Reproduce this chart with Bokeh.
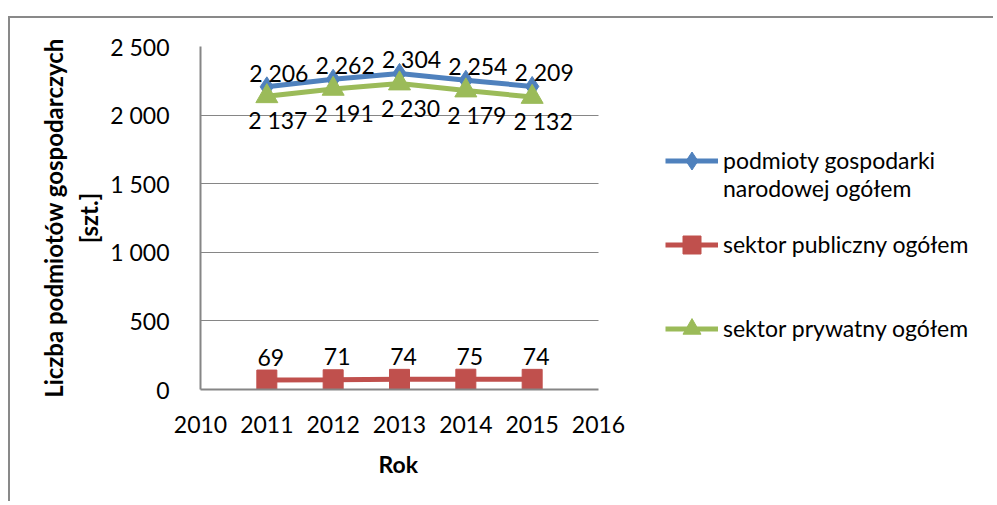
from bokeh.plotting import figure
from bokeh.models import Range1d, FixedTicker, Legend, LegendItem, ColumnDataSource, Title
from bokeh.core.properties import value
from bokeh.embed import file_html
from bokeh.resources import INLINE

years = [2011, 2012, 2013, 2014, 2015]
ogolem = [2206, 2262, 2304, 2254, 2209]
publiczny = [69, 71, 74, 75, 74]
prywatny = [2137, 2191, 2230, 2179, 2132]
y_ticks = [0, 500, 1000, 1500, 2000, 2500]
x_ticks = [2010, 2011, 2012, 2013, 2014, 2015, 2016]
series_names = ["\npodmioty gospodarki\nnarodowej ogółem", "sektor publiczny ogółem", "sektor prywatny ogółem"]
y_title = "Liczba podmiotów gospodarczych\n[szt.]"
x_title = "Rok"

FONT = "Lato"
BLUE, RED, GREEN = "#4F81BD", "#C0504D", "#9BBB59"
GRID = "#868686"

W, H = 985, 485
BL, BT, BB = 190, 28, 114
PLOT_W = 398                       # width of the plotting area (2010..2016)
FRAME_W = W - BL
x_end = x_ticks[0] + (x_ticks[-1] - x_ticks[0]) * FRAME_W / PLOT_W


def fmt(v):
    return f"{v:,}".replace(",", " ")


p = figure(width=W, height=H, output_backend="svg", toolbar_location=None,
           x_range=Range1d(x_ticks[0], x_end), y_range=Range1d(0, 2500),
           min_border_left=BL, min_border_right=0, min_border_top=BT, min_border_bottom=BB,
           styles={"border-top": "2px solid #898989", "border-left": "2px solid #898989",
                   "margin-top": "16px", "margin-left": "8px"})
p.outline_line_color = None
p.background_fill_color = "white"

# axes
p.xaxis.ticker = FixedTicker(ticks=x_ticks)
p.xaxis.bounds = (x_ticks[0], x_ticks[-1])
p.yaxis.ticker = FixedTicker(ticks=y_ticks)
p.yaxis.major_label_overrides = {t: fmt(t) for t in y_ticks}
for ax in (p.xaxis[0], p.yaxis[0]):
    ax.axis_line_color = GRID
    ax.axis_line_width = 2
    ax.major_tick_line_color = None
    ax.minor_tick_line_color = None
    ax.major_label_text_font = FONT
    ax.major_label_text_font_size = "23px"
    ax.major_label_text_color = "black"
    ax.axis_label_text_font = FONT
    ax.axis_label_text_font_style = "bold"
    ax.axis_label_text_color = "black"
p.yaxis.axis_label_text_font_size = "24px"
p.yaxis.major_label_standoff = 25
p.xaxis.major_label_standoff = 20
p.yaxis.axis_label = y_title
p.yaxis.axis_label_standoff = 4
p.xgrid.grid_line_color = None
p.ygrid.grid_line_color = GRID
p.ygrid.grid_line_width = 1
try:
    p.ygrid.cross_bounds = (x_ticks[0], x_ticks[-1])
except Exception:
    p.ygrid.grid_line_color = None
    p.segment(x0=x_ticks[0], x1=x_ticks[-1], y0=y_ticks[1:], y1=y_ticks[1:],
              line_color=GRID, line_width=1)

# x-axis title centred under the plotting area (not under the whole frame)
p.add_layout(Title(text=x_title, align="left", offset=PLOT_W / 2 - 21,
                   text_font=FONT, text_font_size="23px", text_font_style="bold",
                   text_color="black", standoff=24), "below")

src = ColumnDataSource(dict(x=years, a=ogolem, b=publiczny, c=prywatny,
                            la=[fmt(v) for v in ogolem], lb=[fmt(v) for v in publiczny],
                            lc=[fmt(v) for v in prywatny]))

lb_ = p.line("x", "a", source=src, color=BLUE, line_width=5)
mb_ = p.scatter("x", "a", source=src, marker="diamond", size=20, color=BLUE)
lr_ = p.line("x", "b", source=src, color=RED, line_width=5)
mr_ = p.scatter("x", "b", source=src, marker="square", size=20, color=RED)
lg_ = p.line("x", "c", source=src, color=GREEN, line_width=5)
mg_ = p.scatter("x", "c", source=src, marker="triangle", size=22, color=GREEN)

txt = dict(text_font=value(FONT), text_font_size="23px", text_color="black",
           text_align="center", text_baseline="middle")
p.text("x", "a", text="la", source=src, x_offset=12, y_offset=-14, **txt)
p.text("x", "b", text="lb", source=src, x_offset=4, y_offset=-23, **txt)
p.text("x", "c", text="lc", source=src, x_offset=11, y_offset=24, **txt)

legend = Legend(items=[LegendItem(label=series_names[0], renderers=[lb_, mb_]),
                       LegendItem(label=series_names[1], renderers=[lr_, mr_]),
                       LegendItem(label=series_names[2], renderers=[lg_, mg_])],
                location=(465, 19), glyph_width=53, glyph_height=45, label_standoff=5,
                label_height=84, padding=0, margin=0, spacing=-4,
                border_line_color=None, background_fill_alpha=0,
                label_text_font=FONT, label_text_font_size="23px",
                label_text_color="black")
p.add_layout(legend, "center")

open("out.html", "w").write(file_html(p, INLINE))
